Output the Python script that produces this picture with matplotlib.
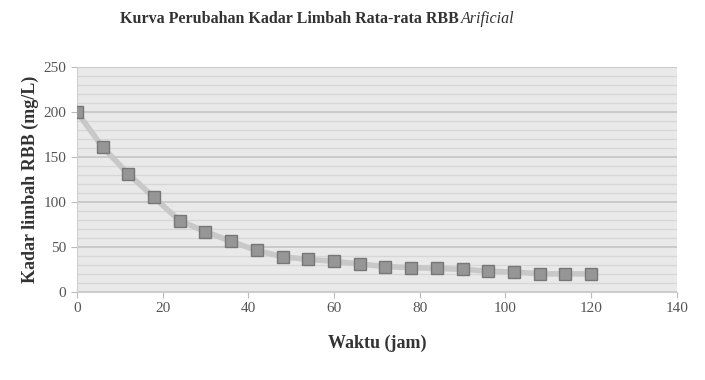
import matplotlib
matplotlib.use("Agg")
import matplotlib.pyplot as plt
import matplotlib.ticker as plticker

# waktu (jam) dan kadar limbah RBB (mg/L)
waktu = [0, 6, 12, 18, 24, 30, 36, 42, 48, 54, 60, 66, 72, 78, 84, 90, 96, 102, 108, 114, 120]
kadar = [200, 161, 131, 105, 79, 67, 56, 46, 39, 36, 34, 31, 28, 27, 26, 25, 23, 22, 20, 20, 20]

xticks = [0, 20, 40, 60, 80, 100, 120, 140]
yticks = [0, 50, 100, 150, 200, 250]

plt.rcParams["font.family"] = ["Liberation Serif", "DejaVu Serif"]

fig = plt.figure(figsize=(7.05, 3.8), dpi=100)
ax = fig.add_axes([0.109, 0.232, 0.851, 0.592])
ax.set_facecolor("#e9e9e9")

ax.set_xlim(0, 140)
ax.set_ylim(0, 250)
ax.set_xticks(xticks)
ax.set_yticks(yticks)
ax.yaxis.set_minor_locator(plticker.MultipleLocator(10))
ax.grid(which="major", axis="y", color="#c4c4c4", lw=1.2)
ax.grid(which="minor", axis="y", color="#d6d6d6", lw=0.9)
ax.set_axisbelow(True)

for s in ["top", "right"]:
    ax.spines[s].set_visible(False)
ax.spines["left"].set_color("#cfcfcf")
ax.spines["bottom"].set_color("#cfcfcf")
ax.tick_params(axis="both", colors="#bbbbbb", labelcolor="#555555", labelsize=11, length=4)
ax.tick_params(which="minor", length=0)

ax.plot(waktu, kadar, color="#c8c8c8", lw=4, zorder=3)
ax.plot(waktu, kadar, ls="none", marker="s", ms=8, mfc="#969696", mec="#777777", mew=1, zorder=4)

ax.set_xlabel("Waktu (jam)", fontsize=13, fontweight="bold", color="#333333", labelpad=14)
ax.set_ylabel("Kadar limbah RBB (mg/L)", fontsize=13, fontweight="bold", color="#333333", labelpad=3)

fig.text(0.170, 0.95, "Kurva Perubahan Kadar Limbah Rata-rata RBB", fontsize=11.5,
         fontweight="bold", color="#333333", va="center")
fig.text(0.654, 0.95, "Arificial", fontsize=11.5, style="italic", color="#333333", va="center")

fig.savefig("out.png", dpi=100)
